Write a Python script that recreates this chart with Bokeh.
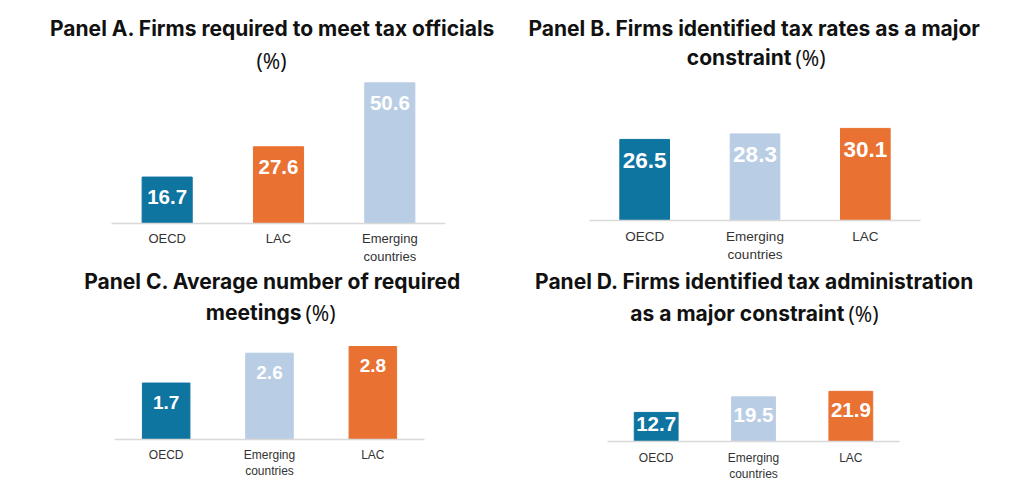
from bokeh.plotting import figure
from bokeh.models import FactorRange, Range1d, Label, ColumnDataSource
from bokeh.layouts import column, row
from bokeh.embed import file_html
from bokeh.resources import INLINE
from bokeh.core.properties import value

# ---------------- data ----------------
a_categories = ["OECD", "LAC", "Emerging countries"]
a_values = [16.7, 27.6, 50.6]

b_categories = ["OECD", "Emerging countries", "LAC"]
b_values = [26.5, 28.3, 30.1]

c_categories = ["OECD", "Emerging countries", "LAC"]
c_values = [1.7, 2.6, 2.8]

d_categories = ["OECD", "Emerging countries", "LAC"]
d_values = [12.7, 19.5, 21.9]

a_title = ["Panel A. Firms required to meet tax officials", "", "(%)"]
b_title = ["Panel B. Firms identified tax rates as a major", "constraint", "(%)"]
c_title = ["Panel C. Average number of required", "meetings", "(%)"]
d_title = ["Panel D. Firms identified tax administration", "as a major constraint", "(%)"]

tick_labels = {"Emerging countries": "Emerging\ncountries"}

COLORS = {"OECD": "#0E74A0", "LAC": "#E97132", "Emerging countries": "#B9CDE5"}
TITLE_FONT = "Inter"
UNIT_FONT = "Noto Sans"
TITLE_SIZE = "21px"
NUM_FONT = "Liberation Sans"
BASELINE_SHIFT = 6


def base_fig(w, h, **kw):
    p = figure(width=w, height=h, title=None, output_backend="svg",
               toolbar_location=None, **kw)
    p.frame_align = False
    p.outline_line_color = None
    p.xgrid.grid_line_color = None
    p.ygrid.grid_line_color = None
    return p


def title_fig(title, ox, oy, w, h, t1, t2):
    p = base_fig(w, h, x_range=Range1d(0, w), y_range=Range1d(0, h),
                 x_axis_location=None, y_axis_location=None,
                 min_border_left=0, min_border_right=0, min_border_top=0, min_border_bottom=0)

    def lab(text, x, y, align, style, font):
        p.add_layout(Label(x=x - ox, y=(oy + h) - (y - BASELINE_SHIFT),
                           x_units="screen", y_units="screen",
                           text=text, text_align=align, text_baseline="alphabetic",
                           text_font=font, text_font_style=style,
                           text_font_size=TITLE_SIZE, text_color="#111111"))

    cx, b1 = t1
    split, b2 = t2
    lab(title[0], cx, b1, "center", "bold", TITLE_FONT)
    if title[1]:
        lab(title[1], split - 2, b2, "right", "bold", TITLE_FONT)
        lab(title[2], split + 2, b2, "left", "normal", UNIT_FONT)
    else:
        lab(title[2], split, b2, "center", "normal", UNIT_FONT)
    return p


def chart(cats, vals, w, h, left, frame_w, bottom, px_per_unit,
          bar_w, val_size, val_off, cat_size, standoff):
    factors = [tick_labels.get(c, c) for c in cats]
    frame_h = h - bottom
    y_end = frame_h / px_per_unit
    p = base_fig(w, h, x_range=FactorRange(*factors, range_padding=0),
                 y_range=Range1d(0, y_end), y_axis_location=None,
                 min_border_left=left, min_border_right=w - left - frame_w,
                 min_border_top=0, min_border_bottom=bottom)

    offs = [min(val_off, v * px_per_unit / 2 - 3) for v in vals]
    src = ColumnDataSource(dict(
        cat=factors, val=vals, color=[COLORS[c] for c in cats],
        label=[f"{v:.1f}" for v in vals], yoff=offs))
    p.vbar(x="cat", top="val", width=bar_w, fill_color="color", line_color="color", source=src)
    p.text(x="cat", y="val", text="label", source=src, text_color="white",
           text_font=value(NUM_FONT), text_font_style="bold",
           text_font_size=f"{val_size}px", text_align="center",
           text_baseline="middle", y_offset="yoff")

    ax = p.xaxis[0]
    ax.axis_line_color = "#D9D9D9"
    ax.axis_line_width = 1.5
    ax.major_tick_line_color = None
    ax.minor_tick_line_color = None
    ax.major_tick_out = 0
    ax.major_tick_in = 0
    ax.major_label_standoff = standoff
    ax.major_label_text_font = NUM_FONT
    ax.major_label_text_font_size = f"{cat_size}px"
    ax.major_label_text_color = "#333333"
    return p


# row 1: titles 0..80, charts 80..266 ; row 2: titles 266..340, charts 340..484
ta = title_fig(a_title, 0, 0, 512, 80, (272, 34), (271, 66))
tb = title_fig(b_title, 512, 0, 512, 80, (754, 34), (793, 63))
tc = title_fig(c_title, 0, 266, 512, 74, (272, 287), (303, 318))
td = title_fig(d_title, 512, 266, 512, 74, (754, 287), (846, 319))

ca = chart(a_categories, a_values, 512, 186, 111, 334, 43, 2.78, 0.45, 20.5, 20, 13, 7)
cb = chart(b_categories, b_values, 512, 186, 77, 331, 46, 3.06, 0.45, 22.5, 21, 13.5, 8)
cc = chart(c_categories, c_values, 512, 141, 114, 310, 42, 33.2, 0.46, 19, 19, 12, 8)
cd = chart(d_categories, d_values, 512, 144, 95, 292, 43, 2.29, 0.45, 20.5, 18.5, 12, 9)

layout = column(row(column(ta, ca), column(tb, cb)), row(column(tc, cc), column(td, cd)))
open("out.html", "w").write(file_html(layout, INLINE))
